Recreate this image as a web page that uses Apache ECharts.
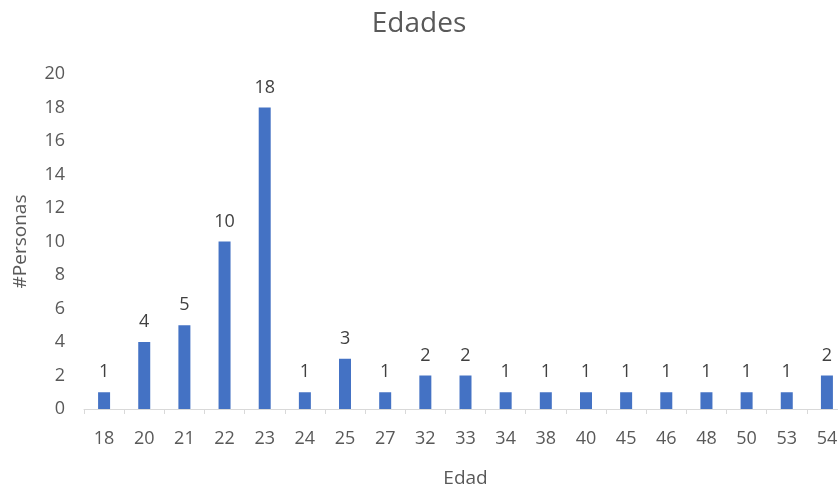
<!DOCTYPE html>
<html>
<head>
<meta charset="utf-8">
<script src="https://cdn.jsdelivr.net/npm/echarts@6/dist/echarts.min.js"></script>
<style>
  html, body { margin: 0; padding: 0; background: #fff; }
  #chart { width: 838px; height: 489px; }
</style>
</head>
<body>
<div id="chart"></div>
<script>
// Ages and how many people have each age
const edades = ['18', '20', '21', '22', '23', '24', '25', '27', '32', '33', '34', '38', '40', '45', '46', '48', '50', '53', '54'];
const personas = [1, 4, 5, 10, 18, 1, 3, 1, 2, 2, 1, 1, 1, 1, 1, 1, 1, 1, 2];
const yTicks = [0, 2, 4, 6, 8, 10, 12, 14, 16, 18, 20];

const FONT = '"Open Sans", "Liberation Sans", sans-serif';
const GREY = '#595959';

const chart = echarts.init(document.getElementById('chart'), null, { renderer: 'canvas' });
chart.setOption({
  animation: false,
  title: {
    text: 'Edades',
    left: 'center',
    top: 5,
    textStyle: { fontFamily: FONT, fontSize: 28, fontWeight: 'normal', color: GREY }
  },
  grid: { left: 84, right: -9, top: 74, bottom: 80, containLabel: false, outerBoundsMode: 'none' },
  xAxis: {
    type: 'category',
    data: edades,
    name: 'Edad',
    nameLocation: 'middle',
    nameGap: 60,
    nameTextStyle: { fontFamily: FONT, fontSize: 19, color: GREY },
    axisLine: { lineStyle: { color: '#d9d9d9', width: 1 } },
    axisTick: { show: true, length: 5, lineStyle: { color: '#d9d9d9' } },
    axisLabel: { fontFamily: FONT, fontSize: 18, color: GREY, margin: 21, interval: 0 }
  },
  yAxis: {
    type: 'value',
    min: yTicks[0],
    max: yTicks[yTicks.length - 1],
    interval: 2,
    name: '#Personas',
    nameLocation: 'middle',
    nameGap: 54,
    nameTextStyle: { fontFamily: FONT, fontSize: 19, color: GREY },
    axisLine: { show: false },
    axisTick: { show: false },
    splitLine: { show: false },
    axisLabel: { fontFamily: FONT, fontSize: 18, color: GREY, margin: 19 }
  },
  series: [{
    type: 'bar',
    data: personas,
    barWidth: 12,
    itemStyle: { color: '#4472c4' },
    label: {
      show: true,
      position: 'top',
      distance: 11,
      fontFamily: FONT,
      fontSize: 18,
      color: '#404040'
    }
  }]
});
</script>
</body>
</html>
